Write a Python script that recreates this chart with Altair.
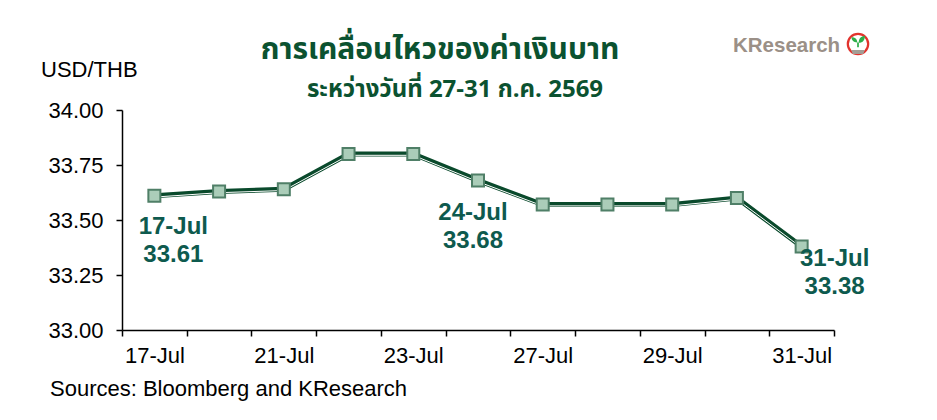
import json
import altair as alt
import pandas as pd

# ---- data ----
dates = ["17-Jul", "20-Jul", "21-Jul", "22-Jul", "23-Jul", "24-Jul",
         "27-Jul", "28-Jul", "29-Jul", "30-Jul", "31-Jul"]
rates = [33.61, 33.63, 33.64, 33.80, 33.80, 33.68,
         33.57, 33.57, 33.57, 33.60, 33.38]
shown_labels = ["17-Jul", "21-Jul", "23-Jul", "27-Jul", "29-Jul", "31-Jul"]
annotated = ["17-Jul", "24-Jul", "31-Jul"]
y_ticks = [33.00, 33.25, 33.50, 33.75, 34.00]

title_text = "การเคลื่อนไหวของค่าเงินบาท"
subtitle_text = "ระหว่างวันที่ 27-31 ก.ค. 2569"
y_title = "USD/THB"
source_text = "Sources: Bloomberg and KResearch"
logo_text = "KResearch"

df = pd.DataFrame({"date": dates, "rate": rates})

W, H = 712, 220
FONT = "Liberation Sans, Arial, sans-serif"
THAI_FONT = "Noto Sans Thai, Noto Sans Thai Looped, Tahoma, Noto Sans, sans-serif"
DARK = "#0a4a2c"
TEAL = "#0e5a4e"

label_expr = ("indexof(" + json.dumps(shown_labels) +
              ", datum.value) >= 0 ? datum.label : ''")

x_enc = alt.X(
    "date:N", sort=dates,
    scale=alt.Scale(type="band", paddingInner=0, paddingOuter=0),
    axis=alt.Axis(title=None, tickBand="extent", labelExpr=label_expr,
                  labelAngle=0, labelOverlap=False, tickSize=6,
                  labelPadding=9),
)
y_enc = alt.Y(
    "rate:Q",
    scale=alt.Scale(domain=[33, 34], nice=False, zero=False),
    axis=alt.Axis(title=None, values=y_ticks, format=".2f", grid=False,
                  tickSize=6, labelPadding=13),
)

base = alt.Chart(df).encode(x=x_enc, y=y_enc)

line_dark = base.mark_line(color=DARK, strokeWidth=5)
line_white = base.mark_line(color="white", strokeWidth=1, yOffset=1.3)
points = base.mark_square(size=144, fill="#abcdb9", stroke="#4f7f67",
                          strokeWidth=2, opacity=1)

ann_offsets = {"17-Jul": (19, 38), "24-Jul": (-5, 40), "31-Jul": (33, 20)}
ann_layers = []
for d in annotated:
    dx, dy = ann_offsets[d]
    ann_layers.append(
        base.transform_filter(alt.datum.date == d)
        .transform_calculate(lbl="datum.date + '\\n' + format(datum.rate, '.2f')")
        .mark_text(font=FONT, fontSize=24, fontWeight="bold", color=TEAL,
                   align="center", baseline="alphabetic", lineBreak="\n",
                   lineHeight=28, dx=dx, dy=dy)
        .encode(text="lbl:N")
    )


def text_layer(txt, px, py, **kw):
    return (alt.Chart(pd.DataFrame({"t": [txt]}))
            .mark_text(**kw)
            .encode(text="t:N", x=alt.value(px), y=alt.value(py)))


title = text_layer(title_text, 318, -51, font=THAI_FONT, fontSize=30,
                   fontWeight="bold", color="#0b5230", align="center",
                   baseline="alphabetic")
subtitle = text_layer(subtitle_text, 333, -13, font=THAI_FONT, fontSize=24,
                      fontWeight="bold", color="#0b5230", align="center",
                      baseline="alphabetic")
ytitle = text_layer(y_title, -81, -33, font=FONT, fontSize=22, color="black",
                    align="left", baseline="alphabetic")
source = text_layer(source_text, -72, 286, font=FONT, fontSize=22,
                    color="black", align="left", baseline="alphabetic")
logo = text_layer(logo_text, 611, -58, font=FONT, fontSize=20.5,
                  fontWeight="bold", color="#9b9087",
                  align="left", baseline="alphabetic")

icon_df = pd.DataFrame({"k": [0]})
ring = (alt.Chart(icon_df)
        .mark_point(shape="circle", filled=False, stroke="#e2332d",
                    strokeWidth=2.2, size=415, opacity=1)
        .encode(x=alt.value(736), y=alt.value(-66)))
leaf_path = ("M -0.08 0.05 C -0.55 0.05 -0.75 -0.25 -0.75 -0.55 "
             "C -0.35 -0.55 -0.08 -0.35 -0.08 0.05 Z "
             "M 0.08 0.1 C 0.6 0.1 0.8 -0.3 0.8 -0.7 "
             "C 0.35 -0.7 0.08 -0.4 0.08 0.1 Z "
             "M -0.1 0.05 L 0.1 0.05 L 0.1 0.6 L -0.1 0.6 Z")
leaf = (alt.Chart(icon_df)
        .mark_point(shape=leaf_path, filled=True, color="#2fae4a",
                    size=300, opacity=1, strokeWidth=0)
        .encode(x=alt.value(736), y=alt.value(-68)))
base_path = "M -1 -0.3 L 1 -0.3 L 0.8 0.3 L -0.8 0.3 Z"
soil = (alt.Chart(icon_df)
        .mark_point(shape=base_path, filled=True, color="#a39d95",
                    size=180, opacity=1, strokeWidth=0)
        .encode(x=alt.value(736), y=alt.value(-58)))

chart = (alt.layer(line_dark, line_white, points, *ann_layers,
                   title, subtitle, ytitle, source, logo, ring, soil, leaf)
         .properties(width=W, height=H,
                     autosize=alt.AutoSizeParams(type="none"),
                     padding={"left": 114, "top": 102, "right": 95,
                              "bottom": 80},
                     background="white")
         .configure_view(stroke=None)
         .configure_axis(labelFont=FONT, labelFontSize=22, labelColor="black",
                         domainColor="black", domainWidth=1.5,
                         tickColor="black", tickWidth=1.5))

chart.save("out.html", embed_options={"renderer": "svg", "actions": False})
